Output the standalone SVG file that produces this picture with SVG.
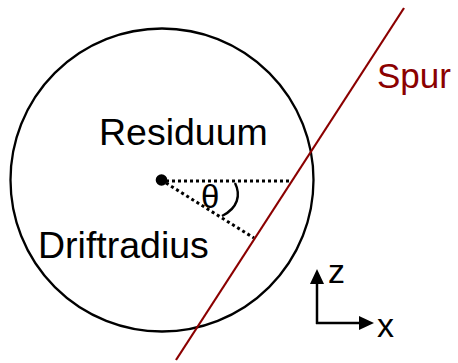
<svg xmlns="http://www.w3.org/2000/svg" width="458" height="363" viewBox="0 0 458 363">
<defs>
<style>
.t{font-family:"Liberation Sans",Arial,sans-serif;fill:#000}
.dot{stroke:#000;stroke-width:3;stroke-dasharray:3 3;fill:none}
</style>
</defs>
<rect width="458" height="363" fill="#fff"/>
<g id="residuum">
<circle cx="162" cy="180" r="151.5" fill="none" stroke="#000" stroke-width="2.3"/>
<circle cx="161.5" cy="180" r="5.8" fill="#000"/>
<text class="t" x="99" y="145" font-size="37.5">Residuum</text>
</g>
<g id="connectors">
<line class="dot" x1="166" y1="181" x2="290" y2="181"/>
<line class="dot" x1="166" y1="183" x2="254" y2="238"/>
<path d="M235,183 C241,195 238,208 222,216" fill="none" stroke="#000" stroke-width="2.4"/>
</g>
<g id="theta"><text class="t" x="201" y="208" font-size="33">θ</text></g>
<g id="driftradius"><text class="t" x="38" y="258" font-size="37.5">Driftradius</text></g>
<g id="spur">
<line x1="404" y1="8" x2="176" y2="360" stroke="#8B0000" stroke-width="2.2"/>
<text class="t" x="377" y="88" font-size="35" style="fill:#8B0000">Spur</text>
</g>
<g id="axes">
<path d="M317,324 L317,283" fill="none" stroke="#000" stroke-width="2.5"/>
<path d="M310,284 L317,269 L324,284 Z" fill="#000"/>
<path d="M316,323 L360,323" fill="none" stroke="#000" stroke-width="2.5"/>
<path d="M359,316 L374,323 L359,330 Z" fill="#000"/>
<text class="t" x="328" y="283" font-size="34">z</text>
<text class="t" x="377" y="337" font-size="34">x</text>
</g>
</svg>
